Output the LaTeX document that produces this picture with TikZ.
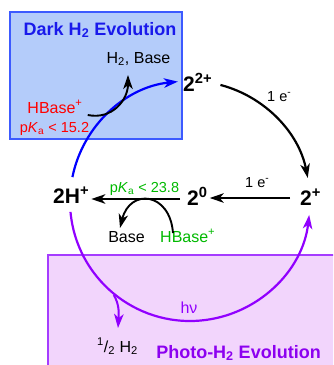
\documentclass[tikz,border=0pt]{standalone}
\usepackage{fontspec}
\setmainfont{Liberation Sans}
\usetikzlibrary{arrows.meta}
\definecolor{bluebox}{RGB}{180,204,250}
\definecolor{blueedge}{RGB}{60,90,255}
\definecolor{bluetxt}{RGB}{25,25,235}
\definecolor{arcblue}{RGB}{0,0,255}
\definecolor{purplebox}{RGB}{242,213,252}
\definecolor{purpleedge}{RGB}{165,60,255}
\definecolor{arcpurple}{RGB}{145,0,255}
\definecolor{purpletxt}{RGB}{140,0,240}
\definecolor{grn}{RGB}{0,185,0}
\definecolor{rd}{RGB}{255,0,0}
\begin{document}
\begin{tikzpicture}[x=1pt,y=-1pt,
  txt/.style={inner sep=0pt, font=\fontsize{16}{18}\selectfont},
  big/.style={inner sep=0pt, font=\fontsize{21}{24}\selectfont\bfseries},
  ttl/.style={inner sep=0pt, font=\fontsize{18}{21}\selectfont\bfseries},
  small/.style={inner sep=0pt, font=\fontsize{14.5}{16}\selectfont},
  tip/.style={-{Stealth[length=14pt,width=9.5pt,inset=4pt]}},
  arcline/.style={line width=2.2pt, tip},
  sidearrow/.style={line width=1.9pt, tip},
  straight/.style={line width=2pt, tip}]
\useasboundingbox (0,0) rectangle (333,365);
\clip (0,0) rectangle (333,365);
% boxes
\draw[blueedge, fill=bluebox, line width=1.5pt] (10,12) rectangle (182,139);
\draw[purpleedge, fill=purplebox, line width=1.5pt] (48,255) rectangle (345,380);
% circle centre
\coordinate (O) at (190,201);
% labels
\node[ttl, text=bluetxt, anchor=base] (dark) at (100,35) {Dark H\textsubscript{2} Evolution};
\node[txt, anchor=base] (h2b) at (138.5,63) {H\textsubscript{2}, Base};
\node[txt, text=rd, anchor=base] (hbR) at (55,113) {HBase\textsuperscript{+}};
\node[small, text=rd, anchor=base] (pkR) at (54.5,132) {p\textit{K}\textsubscript{a} < 15.2};
\node[big, anchor=base west] (d2) at (183,91) {2\textsuperscript{2+}};
\node[small, anchor=base west] (e1) at (267,101) {1 e\textsuperscript{-}};
\node[big, anchor=base west] (d1) at (300,205) {2\textsuperscript{+}};
\node[big, anchor=base west] (d0) at (187,205) {2\textsuperscript{0}};
\node[small, anchor=base west] (e2) at (245,187) {1 e\textsuperscript{-}};
\node[big, anchor=base west] (hp) at (53,203) {2H\textsuperscript{+}};
\node[small, text=grn, anchor=base] (pkG) at (144.5,192) {p\textit{K}\textsubscript{a} < 23.8};
\node[txt, anchor=base] (bs) at (126.5,242) {Base};
\node[txt, text=grn, anchor=base west] (hbG) at (160,242) {HBase\textsuperscript{+}};
\node[txt, text=arcpurple, anchor=base] (hv) at (189,313) {hν};
\node[txt, anchor=base] (half) at (117.5,352) {\textsuperscript{1}/\textsubscript{2} H\textsubscript{2}};
\node[ttl, text=purpletxt, anchor=base] (photo) at (238.5,358) {Photo-H\textsubscript{2} Evolution};
% cycle arcs
\draw[arcline, arcblue] ([shift={(-168.5:120)}]O) arc[start angle=-168.5, end angle=-95.8, radius=120];
\draw[arcline, black] ([shift={(-75.3:120)}]O) arc[start angle=-75.3, end angle=-11.1, radius=120];
\draw[arcline, arcpurple] ([shift={(-185.2:120)}]O) arc[start angle=-185.2, end angle=-353.35, radius=120];
% straight arrows
\draw[straight] ([shift={(-10,-7)}]d1.base west) -- ([shift={(2,-7)}]d0.base east);
\draw[straight] ([shift={(-7,-6)}]d0.base west) -- ([shift={(2,-4)}]hp.base east);
% side arrows
\draw[sidearrow] ([shift={(5,2)}]hbR.base east) .. controls (112,120) and (128,100) .. ([shift={(-10.5,12)}]h2b.base);
\draw[sidearrow] ([shift={(13,-9)}]hbG.base west) .. controls (170,192) and (130,188) .. ([shift={(-6.5,-14)}]bs.base);
\draw[sidearrow, arcpurple, line width=2pt] ([shift={(-231:121)}]O) .. controls (119,304) and (119,312) .. ([shift={(0.5,-24)}]half.base);
\end{tikzpicture}
\end{document}
